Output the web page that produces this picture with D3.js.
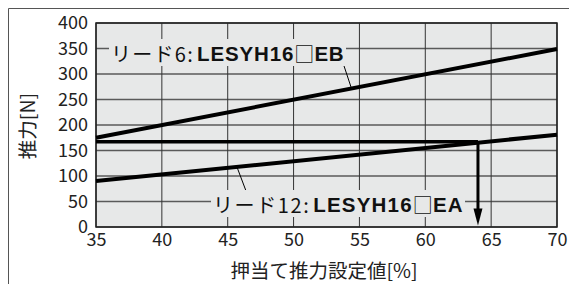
<!DOCTYPE html>
<html><head><meta charset="utf-8">
<script src="https://cdn.jsdelivr.net/npm/d3@7"></script>
<style>
body{margin:0;background:#fff;}
svg{display:block;}
text{font-family:"Noto Sans CJK JP","Noto Sans",sans-serif;}
</style></head>
<body>
<svg id="c" width="569" height="284"></svg>
<script>
const xTicks = [35, 40, 45, 50, 55, 60, 65, 70];
const yTicks = [0, 50, 100, 150, 200, 250, 300, 350, 400];
const settingPct = [35, 70];
const lead6Force = [175, 349];
const lead12Force = [90, 181];
const readPct = 64;
const readForce = 167;
const xTitle = "押当て推力設定値[%]";
const yTitle = "推力[N]";
const lead6Label = ["リード6:", "LESYH16", "□", "EB"];
const lead12Label = ["リード12:", "LESYH16", "□", "EA"];

const svg = d3.select("#c");
const L = 96, R = 557, T = 23, B = 227;
const x = d3.scaleLinear().domain([35, 70]).range([L, R]);
const y = d3.scaleLinear().domain([0, 400]).range([B, T]);

// outer frame
svg.append("path").attr("d", "M8.5,290 V8.5 H575").attr("fill", "none").attr("stroke", "#555").attr("stroke-width", 1);

// plot background
svg.append("rect").attr("x", L).attr("y", T).attr("width", R - L).attr("height", B - T).attr("fill", "#e7e8e8");

// grid
svg.append("g").selectAll("line").data(yTicks).join("line")
  .attr("x1", L).attr("x2", R).attr("y1", d => y(d)).attr("y2", d => y(d))
  .attr("stroke", "#5a5a5a").attr("stroke-width", 1.3);
svg.append("g").selectAll("line").data(xTicks).join("line")
  .attr("x1", d => x(d)).attr("x2", d => x(d)).attr("y1", T).attr("y2", B)
  .attr("stroke", "#333").attr("stroke-width", 1);

// border
svg.append("rect").attr("x", L).attr("y", T).attr("width", R - L).attr("height", B - T)
  .attr("fill", "none").attr("stroke", "#222").attr("stroke-width", 1.5);

// axes labels via d3 axes
const xAxis = svg.append("g").attr("transform", `translate(0,${B})`)
  .call(d3.axisBottom(x).tickValues(xTicks).tickSize(0).tickPadding(6));
xAxis.select(".domain").remove();
xAxis.selectAll("text").attr("font-size", 18).attr("fill", "#222")
  .attr("font-family", "'Noto Sans CJK JP', sans-serif");

const yAxis = svg.append("g").attr("transform", `translate(${L},0)`)
  .call(d3.axisLeft(y).tickValues(yTicks).tickSize(0).tickPadding(8));
yAxis.select(".domain").remove();
yAxis.selectAll("text").attr("font-size", 18).attr("fill", "#222")
  .attr("font-family", "'Noto Sans CJK JP', sans-serif");

// titles
svg.append("text").attr("x", 324).attr("y", 278).attr("text-anchor", "middle")
  .attr("font-size", 19.5).attr("fill", "#222").text(xTitle);
svg.append("text").attr("transform", "translate(35,126) rotate(-90)").attr("text-anchor", "middle")
  .attr("font-size", 19.5).attr("fill", "#222").text(yTitle);

// data lines
const line = d3.line().x(d => x(d[0])).y(d => y(d[1]));
const s6 = settingPct.map((p, i) => [p, lead6Force[i]]);
const s12 = settingPct.map((p, i) => [p, lead12Force[i]]);
svg.append("path").attr("d", line(s6)).attr("fill", "none").attr("stroke", "#000").attr("stroke-width", 4);
svg.append("path").attr("d", line(s12)).attr("fill", "none").attr("stroke", "#000").attr("stroke-width", 4);

// reading line + arrow
svg.append("path").attr("d", line([[35, readForce], [readPct, readForce]]))
  .attr("fill", "none").attr("stroke", "#000").attr("stroke-width", 3.5);
svg.append("path").attr("d", line([[readPct, readForce], [readPct, 22]]))
  .attr("fill", "none").attr("stroke", "#000").attr("stroke-width", 3);
const ax = x(readPct), ay = y(3);
svg.append("path").attr("d", `M${ax},${ay} L${ax - 4.5},${ay - 17} L${ax + 4.5},${ay - 17} Z`).attr("fill", "#000");

// interpolation helper for leader endpoints
const f6 = d3.scaleLinear().domain(settingPct).range(lead6Force);
const f12 = d3.scaleLinear().domain(settingPct).range(lead12Force);

// leaders
svg.append("line").attr("x1", x(53.75)).attr("y1", y(322)).attr("x2", x(54.4)).attr("y2", y(f6(54.4)))
  .attr("stroke", "#000").attr("stroke-width", 1);
svg.append("line").attr("x1", x(46.4)).attr("y1", y(70)).attr("x2", x(45.7)).attr("y2", y(f12(45.7)))
  .attr("stroke", "#000").attr("stroke-width", 1);

function label(parts, sx, cy, endX) {
  const g = svg.append("g");
  const bg = g.append("rect").attr("fill", "#e7e8e8");
  const t = g.append("text").attr("x", sx).attr("y", cy).attr("font-size", 20).attr("fill", "#111")
    .attr("dominant-baseline", "central");
  t.append("tspan").attr("letter-spacing", 1.2).text(parts[0]);
  t.append("tspan").attr("dx", 3).attr("font-family", "'Liberation Sans', Arial, sans-serif").attr("font-weight", "bold").attr("font-size", 20.5).attr("letter-spacing", 0.8).text(parts[1]);
  t.append("tspan").attr("font-weight", "normal").attr("font-size", 20).text(parts[2]);
  t.append("tspan").attr("font-family", "'Liberation Sans', Arial, sans-serif").attr("font-weight", "bold").attr("font-size", 20.5).attr("letter-spacing", 0.5).text(parts[3]);
  const bb = t.node().getBBox();
  if (endX) t.attr("textLength", endX - sx).attr("lengthAdjust", "spacing");
  const bb2 = t.node().getBBox();
  bg.attr("x", bb2.x - 2).attr("y", bb2.y + 1).attr("width", bb2.width + 4).attr("height", bb2.height - 2);
}
label(lead6Label, 111, y(350) + 4, 344);
label(lead12Label, 213, y(50) + 2, 463);
</script>
</body></html>
